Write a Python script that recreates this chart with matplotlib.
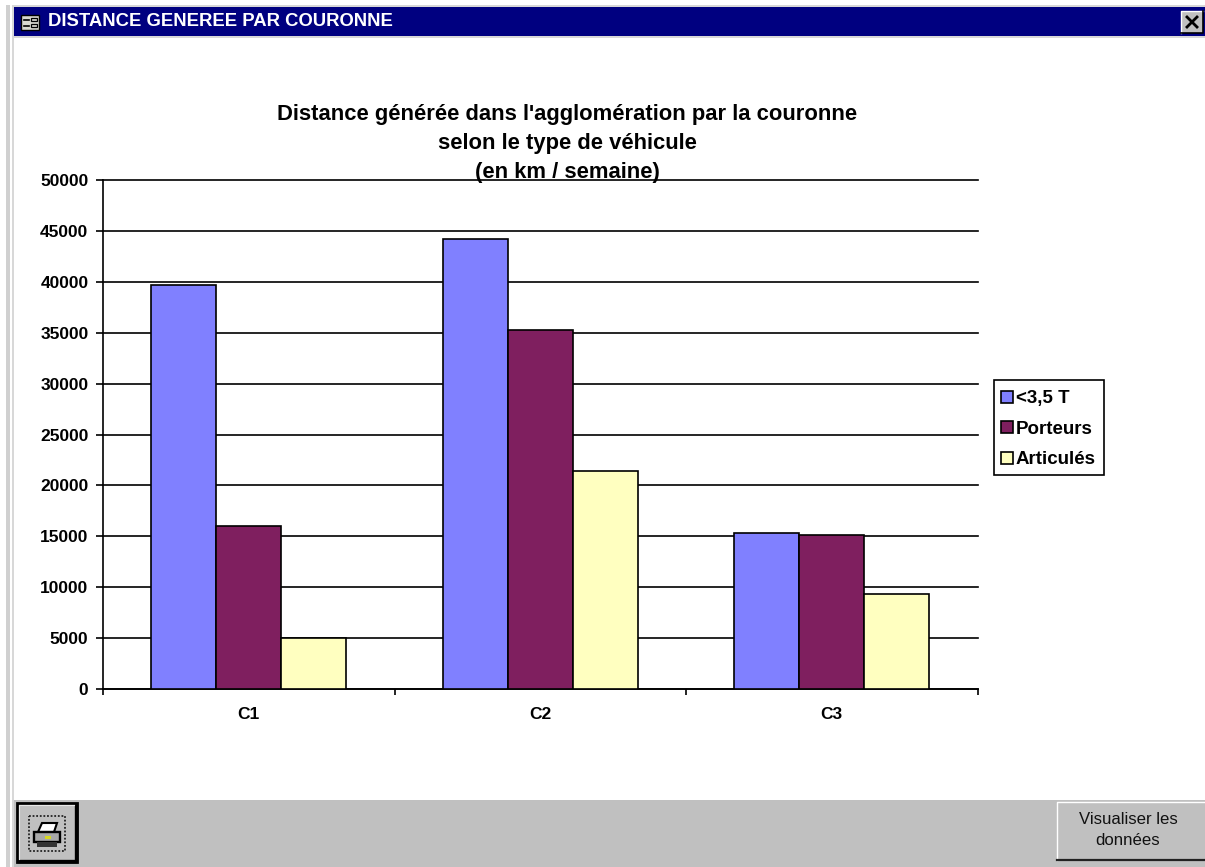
"""Access-style form window holding a grouped bar chart of weekly distance."""
import matplotlib

matplotlib.use("Agg")
import matplotlib.pyplot as plt
from matplotlib.patches import Polygon, Rectangle
import numpy as np

W, H = 1205, 867

categories = ["C1", "C2", "C3"]
under_35t = [39700, 44250, 15300]
porteurs = [16000, 35300, 15100]
articules = [5000, 21400, 9300]
series_names = ["<3,5 T", "Porteurs", "Articulés"]
yticks = [0, 5000, 10000, 15000, 20000, 25000, 30000, 35000, 40000, 45000, 50000]

colors = ["#8080ff", "#7f1f5f", "#ffffc0"]
FONT = "Liberation Sans"
GREY = "#c0c0c0"

plt.rcParams["font.family"] = FONT


def px_axes(fig, left, top, right, bottom):
    return fig.add_axes([left / W, 1 - bottom / H, (right - left) / W, (bottom - top) / H])


def box(ax, x0, y0, x1, y1, **kw):
    ax.add_patch(Rectangle((x0, y0), x1 - x0, y1 - y0, **kw))


def draw_window(fig):
    ax = fig.add_axes([0, 0, 1, 1], zorder=0)
    ax.set_xlim(0, W)
    ax.set_ylim(H, 0)
    ax.axis("off")

    # window frame on the left
    box(ax, 6, 5, 10, H, fc="#d0d0d0", lw=0)
    box(ax, 12, 5, 14, H, fc="#d8d8d8", lw=0)
    box(ax, 14, 5, W, 7, fc="#d8d8d8", lw=0)
    box(ax, 14, 36, W, 38, fc="#d8d8d8", lw=0)

    # title bar
    box(ax, 14, 7, W, 36, fc="#000080", lw=0)
    box(ax, 21, 15, 39, 30, fc="#d8d8d0", ec="black", lw=1)
    ax.plot([24, 29], [20, 20], color="black", lw=1.2)
    ax.plot([24, 29], [26, 26], color="black", lw=1.2)
    box(ax, 31, 18, 37, 21, fc="none", ec="black", lw=0.9)
    box(ax, 31, 24, 37, 27, fc="none", ec="black", lw=0.9)
    ax.text(48, 21.5, "DISTANCE GENEREE PAR COURONNE", color="white", fontsize=13.3,
            fontweight="bold", va="center", ha="left")

    # close button
    box(ax, 1181, 11, 1203, 33, fc=GREY, lw=0)
    ax.plot([1181, 1181, 1203], [33, 11, 11], color="white", lw=1)
    ax.plot([1181, 1203, 1203], [33, 33, 11], color="black", lw=1.2)
    ax.plot([1187, 1197], [17, 27], color="black", lw=2)
    ax.plot([1187, 1197], [27, 17], color="black", lw=2)

    # bottom strip
    box(ax, 14, 800, W, H, fc=GREY, lw=0)

    # print button
    box(ax, 17, 803, 77, 862, fc=GREY, ec="black", lw=2)
    ax.plot([76, 76, 19], [805, 861, 861], color="black", lw=2.4)
    ax.plot([19, 19, 74], [859, 805, 805], color="#e8e8e8", lw=0.8)
    box(ax, 29, 816, 65, 851, fc="none", ec="#222222", lw=1.3, ls=(0, (1, 1)))
    ax.add_patch(Polygon([[38, 832], [42, 823], [57, 823], [54, 832]], fc="white", ec="black", lw=1.5))
    box(ax, 34, 832, 60, 842, fc="#a8a8a8", ec="black", lw=1.7)
    box(ax, 37, 842, 57, 847, fc="#333333", lw=0)
    box(ax, 45, 836, 51, 839, fc="#d8d820", lw=0)

    # data button
    box(ax, 1057, 802, W, 860, fc=GREY, lw=0)
    ax.plot([1057, 1057, W], [860, 802, 802], color="white", lw=1)
    ax.plot([1057, W], [860, 860], color="#222222", lw=1.6)
    ax.text(1128, 830, "Visualiser les\ndonnées", color="#111111", fontsize=12.1,
            ha="center", va="center", linespacing=1.57, family="Liberation Sans")

    # legend frame, the legend itself sits on top without one
    box(ax, 994, 380, 1104, 475, fc="white", ec="black", lw=1.2)


def draw_chart(fig):
    ax = px_axes(fig, 103, 180, 977.5, 689)
    ax.set_zorder(2)
    ax.patch.set_alpha(0)

    x = np.arange(len(categories))
    width = 0.223
    for i, vals in enumerate([under_35t, porteurs, articules]):
        ax.bar(x + (i - 1) * width, vals, width, color=colors[i], edgecolor="black",
               linewidth=1.2, zorder=3, label=series_names[i])

    ax.set_xlim(-0.5, 2.5)
    ax.set_ylim(0, 50000)
    ax.set_yticks(yticks)
    ax.set_xticks(x, categories)
    ax.set_xticks([-0.5, 0.5, 1.5, 2.5], minor=True)
    ax.grid(True, axis="y", color="black", lw=1.2, zorder=1)
    ax.set_axisbelow(True)
    for line in ax.get_ygridlines():
        line.set_clip_on(False)
    for side in ["top", "right"]:
        ax.spines[side].set_visible(False)
    for side in ["left", "bottom"]:
        ax.spines[side].set_linewidth(1.2)
    ax.tick_params(axis="y", length=5, width=1.2, pad=5.5, labelsize=12.5)
    ax.tick_params(axis="x", which="major", length=0, pad=13, labelsize=12.5)
    ax.tick_params(axis="x", which="minor", length=4, width=1.2)
    for t in ax.get_xticklabels() + ax.get_yticklabels():
        t.set_fontweight("bold")

    fig.text(567 / W, 1 - 143.5 / H,
             "Distance générée dans l'agglomération par la couronne\n"
             "selon le type de véhicule\n(en km / semaine)",
             ha="center", va="center", fontsize=15.8, fontweight="bold",
             linespacing=1.5, zorder=5)

    handles, labels = ax.get_legend_handles_labels()
    fig.legend(handles, labels, loc="upper left",
               bbox_to_anchor=(993 / W, 1 - 382 / H), frameon=False,
               handlelength=0.63, handleheight=0.63,
               handletextpad=0.12, labelspacing=0.72, borderpad=0.45, borderaxespad=0,
               prop={"family": FONT, "weight": "bold", "size": 13.5})


def main():
    fig = plt.figure(figsize=(W / 100, H / 100), dpi=100, facecolor="white")
    draw_window(fig)
    draw_chart(fig)
    fig.savefig("out.png", dpi=100)


if __name__ == "__main__":
    main()
